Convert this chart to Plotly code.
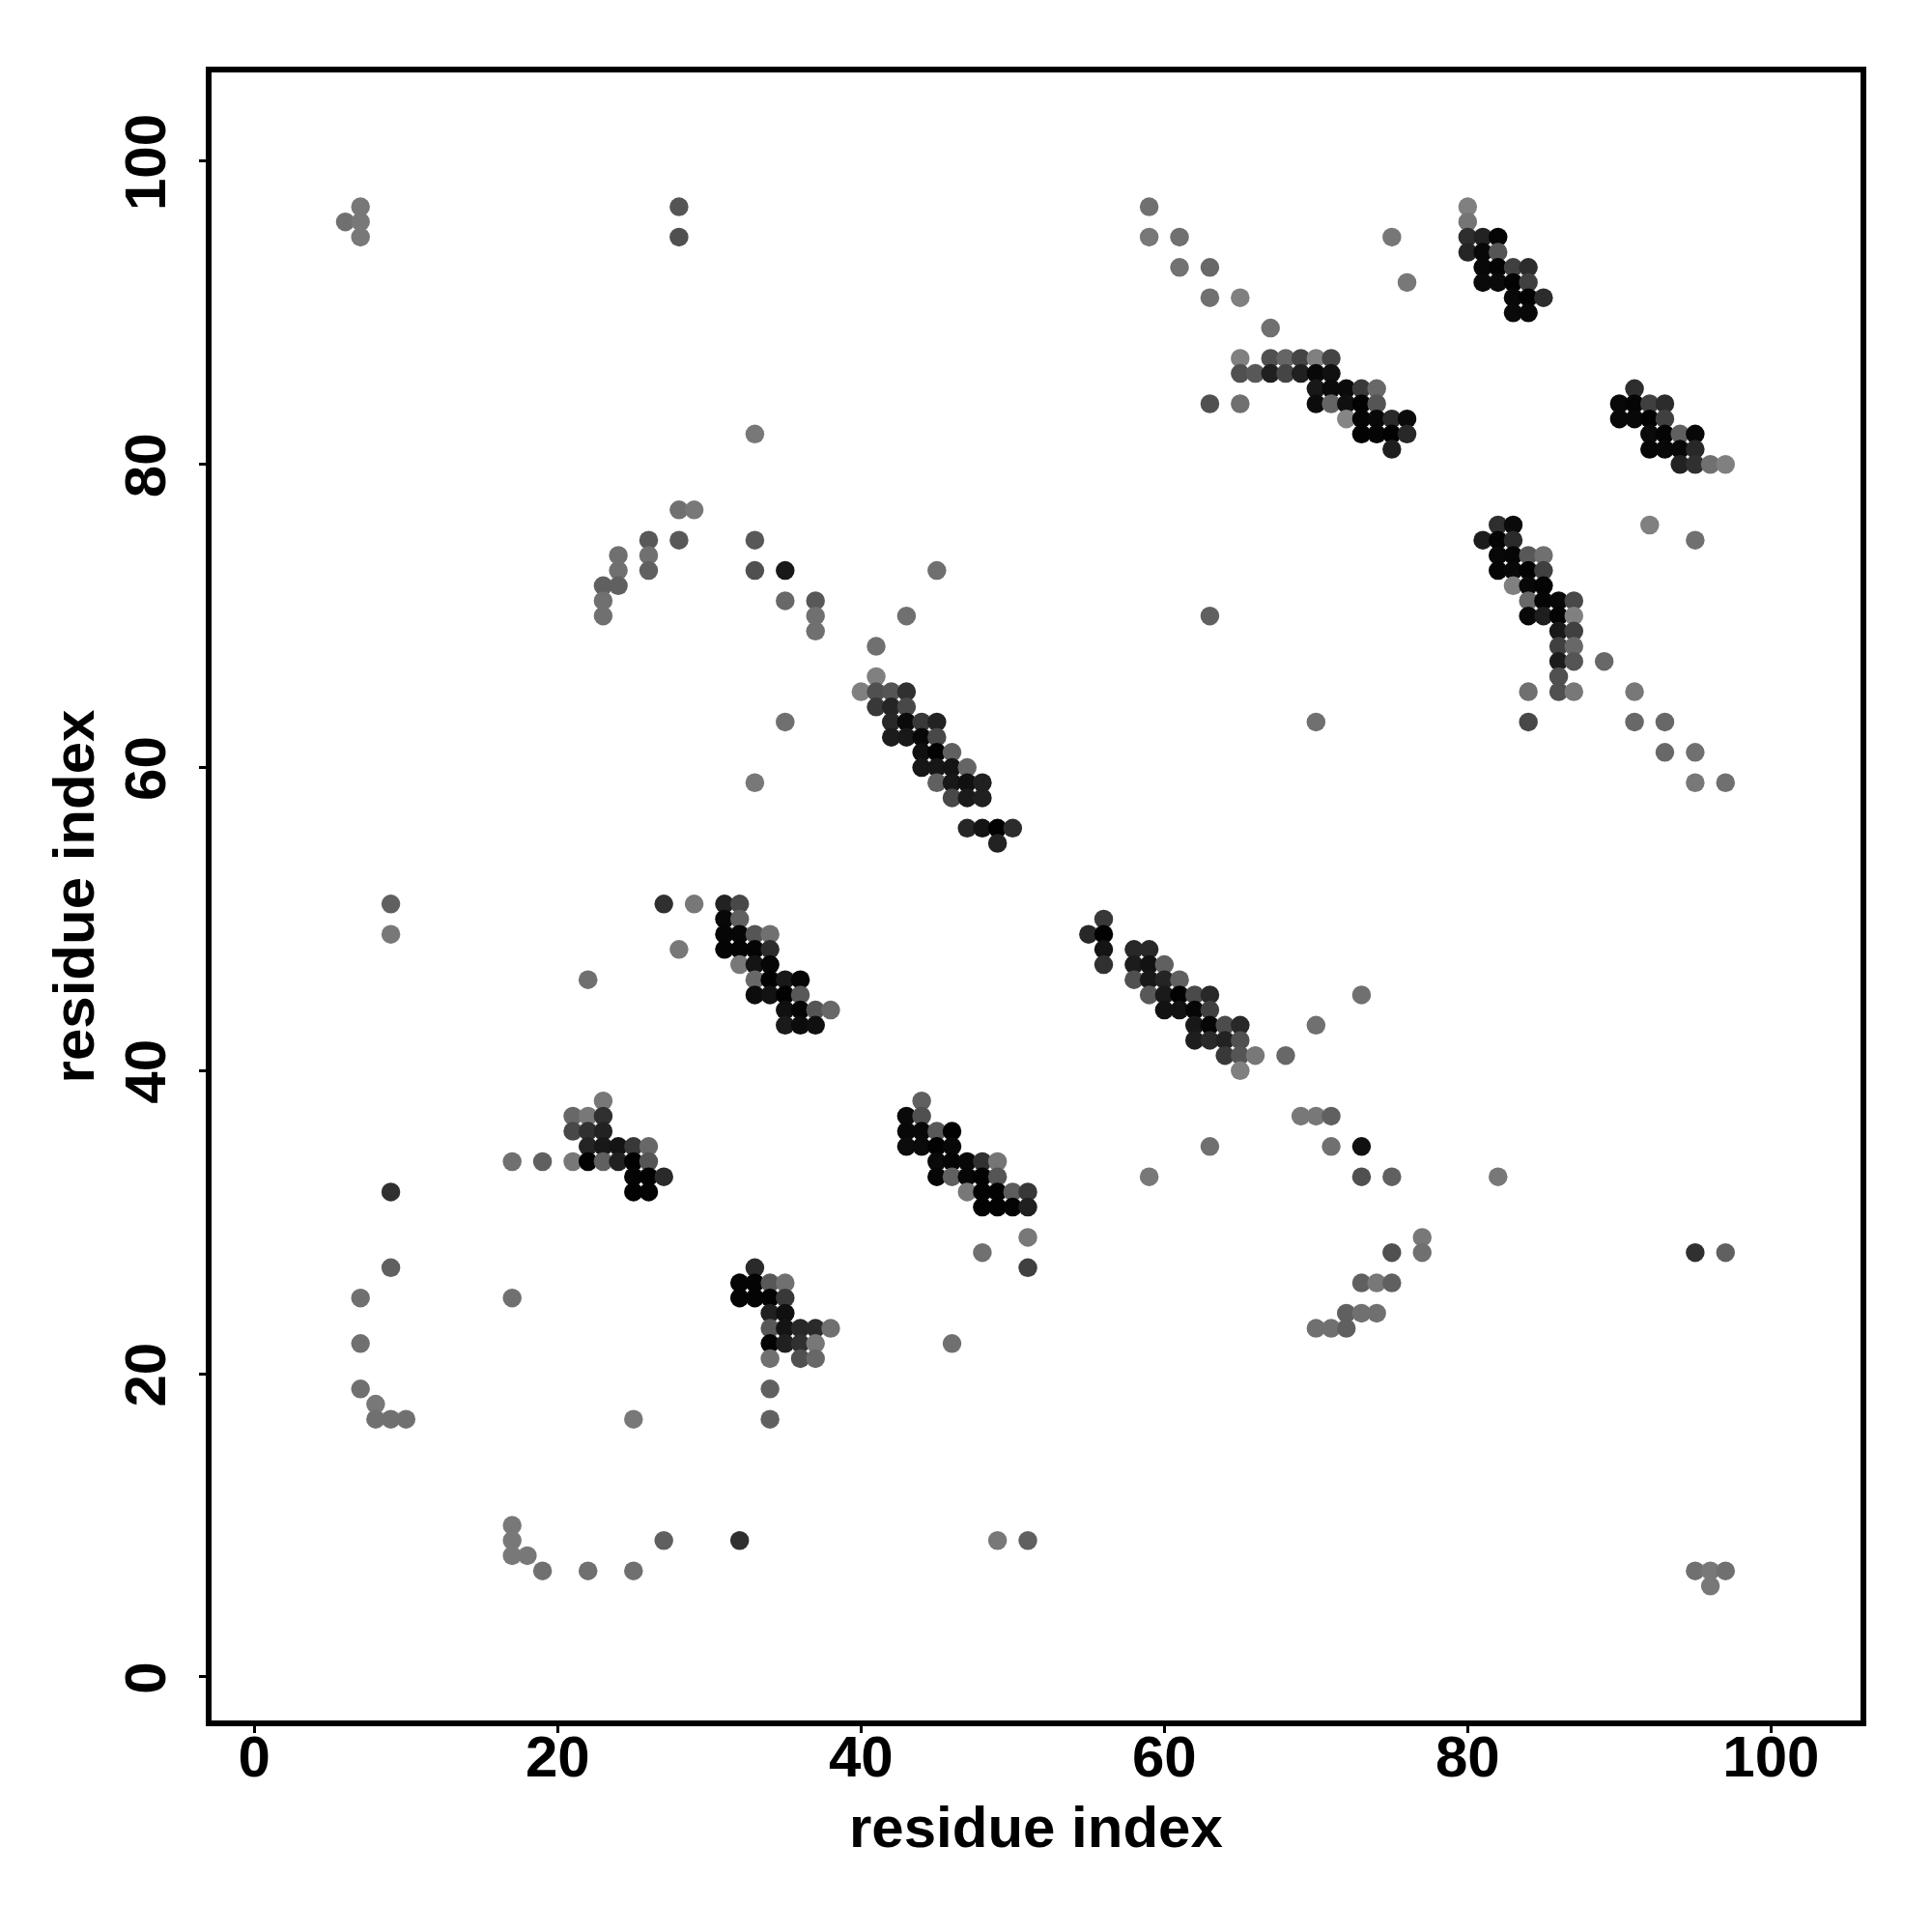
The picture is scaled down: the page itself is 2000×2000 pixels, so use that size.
import plotly.graph_objects as go

tick_values = [0, 20, 40, 60, 80, 100]
tick_labels = ["0", "20", "40", "60", "80", "100"]
x_title = "residue index"
y_title = "residue index"

row_y = [97, 96, 95, 94, 93, 92, 91, 90, 89, 87, 86, 85, 84, 83, 82, 81, 80, 77, 76, 75, 74, 73, 72, 71, 70,
         69, 68, 67, 66, 65, 64, 63, 62, 61, 60, 59, 58, 56, 55, 51, 50, 49, 48, 47, 46, 45, 44, 43, 42, 41, 40,
         38, 37, 36, 35, 34, 33, 32, 31, 29, 28, 27, 26, 25, 24, 23, 22, 21, 19, 18, 17, 10, 9, 8, 7, 6]

row_x = [
    [7, 28, 59, 80],
    [6, 7, 80],
    [7, 28, 59, 61, 75, 80, 81, 82],
    [80, 81, 82],
    [61, 63, 81, 82, 83, 84],
    [76, 81, 82, 83, 84],
    [63, 65, 83, 84, 85],
    [83, 84],
    [67],
    [65, 67, 68, 69, 70, 71],
    [65, 66, 67, 68, 69, 70, 71],
    [70, 71, 72, 73, 74, 91],
    [63, 65, 70, 71, 72, 73, 74, 90, 91, 92, 93],
    [72, 73, 74, 75, 76, 90, 91, 92, 93],
    [33, 73, 74, 75, 76, 92, 93, 94, 95],
    [75, 92, 93, 94, 95],
    [94, 95, 96, 97],
    [28, 29],
    [82, 83, 92],
    [26, 28, 33, 81, 82, 83, 95],
    [24, 26, 82, 83, 84, 85],
    [24, 26, 33, 35, 45, 82, 83, 84, 85],
    [23, 24, 83, 84, 85],
    [23, 35, 37, 84, 85, 86, 87],
    [23, 37, 43, 63, 84, 85, 86, 87],
    [37, 86, 87],
    [41, 86, 87],
    [86, 87, 89],
    [41, 86],
    [40, 41, 42, 43, 84, 86, 87, 91],
    [41, 42, 43],
    [35, 42, 43, 44, 45, 70, 84, 91, 93],
    [42, 43, 44, 45],
    [44, 45, 46, 93, 95],
    [44, 45, 46, 47],
    [33, 45, 46, 47, 48, 95, 97],
    [46, 47, 48],
    [47, 48, 49, 50],
    [49],
    [9, 27, 29, 31, 32],
    [31, 32, 56],
    [9, 31, 32, 33, 34, 55, 56],
    [28, 31, 32, 33, 34, 56, 58, 59],
    [32, 33, 34, 56, 58, 59, 60],
    [22, 33, 34, 35, 36, 58, 59, 60, 61],
    [33, 34, 35, 36, 59, 60, 61, 62, 63, 73],
    [35, 36, 37, 38, 60, 61, 62, 63],
    [35, 36, 37, 62, 63, 64, 65, 70],
    [62, 63, 64, 65],
    [64, 65, 66, 68],
    [65],
    [23, 44],
    [21, 22, 23, 43, 44, 69, 70, 71],
    [21, 22, 23, 43, 44, 45, 46],
    [22, 23, 24, 25, 26, 43, 44, 45, 46, 63, 71, 73],
    [17, 19, 21, 22, 23, 24, 25, 26, 45, 46, 47, 48, 49],
    [25, 26, 27, 45, 46, 47, 48, 49, 59, 73, 75, 82],
    [9, 25, 26, 47, 48, 49, 50, 51],
    [48, 49, 50, 51],
    [51, 77],
    [48, 75, 77, 95, 97],
    [9, 33, 51],
    [32, 33, 34, 35, 73, 74, 75],
    [7, 17, 32, 33, 34, 35],
    [34, 35, 72, 73, 74],
    [34, 35, 36, 37, 38, 70, 71, 72],
    [7, 34, 35, 36, 37, 46],
    [34, 36, 37],
    [7, 34],
    [8],
    [8, 9, 10, 25, 34],
    [17],
    [17, 27, 32, 49, 51],
    [17, 18],
    [19, 22, 25, 95, 96, 97],
    [96],
]

row_gray = [
    [0x78, 0x55, 0x70, 0x80],
    [0x70, 0x78, 0x75],
    [0x78, 0x50, 0x78, 0x70, 0x77, 0x2e, 0x22, 0x05],
    [0x25, 0x08, 0x55],
    [0x72, 0x68, 0x08, 0x04, 0x40, 0x2c],
    [0x78, 0x0a, 0x0a, 0x02, 0x40],
    [0x70, 0x80, 0x08, 0x02, 0x2c],
    [0x0a, 0x08],
    [0x70],
    [0x80, 0x50, 0x65, 0x45, 0x80, 0x45],
    [0x50, 0x58, 0x20, 0x45, 0x20, 0x08, 0x10],
    [0x18, 0x0a, 0x0a, 0x3a, 0x68, 0x2e],
    [0x50, 0x70, 0x0c, 0x65, 0x10, 0x02, 0x55, 0x08, 0x05, 0x40, 0x2c],
    [0x85, 0x05, 0x08, 0x2a, 0x0a, 0x08, 0x08, 0x02, 0x40],
    [0x78, 0x02, 0x05, 0x02, 0x28, 0x0a, 0x04, 0x60, 0x08],
    [0x1e, 0x06, 0x08, 0x08, 0x28],
    [0x22, 0x30, 0x70, 0x80],
    [0x70, 0x78],
    [0x2e, 0x0a, 0x80],
    [0x58, 0x58, 0x58, 0x1c, 0x04, 0x2a, 0x70],
    [0x70, 0x70, 0x08, 0x06, 0x58, 0x70],
    [0x70, 0x60, 0x50, 0x18, 0x70, 0x05, 0x08, 0x02, 0x40],
    [0x60, 0x60, 0x80, 0x08, 0x04],
    [0x70, 0x68, 0x58, 0x68, 0x06, 0x08, 0x48],
    [0x70, 0x70, 0x70, 0x60, 0x08, 0x1e, 0x04, 0x80],
    [0x70, 0x18, 0x40],
    [0x70, 0x40, 0x68],
    [0x1c, 0x55, 0x68],
    [0x80, 0x50],
    [0x80, 0x50, 0x55, 0x30, 0x70, 0x50, 0x78, 0x78],
    [0x38, 0x25, 0x48],
    [0x70, 0x28, 0x0a, 0x38, 0x22, 0x70, 0x48, 0x68, 0x68],
    [0x1c, 0x18, 0x08, 0x48],
    [0x10, 0x02, 0x60, 0x68, 0x70],
    [0x16, 0x16, 0x14, 0x65],
    [0x78, 0x60, 0x18, 0x10, 0x20, 0x78, 0x70],
    [0x48, 0x1a, 0x20],
    [0x26, 0x14, 0x02, 0x2c],
    [0x22],
    [0x60, 0x30, 0x78, 0x22, 0x48],
    [0x08, 0x60, 0x38],
    [0x78, 0x06, 0x06, 0x55, 0x70, 0x28, 0x02],
    [0x78, 0x04, 0x04, 0x04, 0x2c, 0x14, 0x28, 0x28],
    [0x78, 0x14, 0x06, 0x30, 0x1c, 0x12, 0x60],
    [0x70, 0x68, 0x02, 0x18, 0x06, 0x50, 0x18, 0x24, 0x60],
    [0x0c, 0x12, 0x02, 0x58, 0x58, 0x1a, 0x02, 0x4a, 0x28, 0x70],
    [0x10, 0x05, 0x55, 0x68, 0x12, 0x12, 0x06, 0x40],
    [0x1a, 0x0c, 0x10, 0x18, 0x06, 0x4c, 0x28, 0x70],
    [0x1e, 0x2a, 0x22, 0x50],
    [0x38, 0x55, 0x78, 0x68],
    [0x80],
    [0x78, 0x60],
    [0x68, 0x78, 0x30, 0x0a, 0x50, 0x78, 0x78, 0x60],
    [0x48, 0x30, 0x22, 0x08, 0x08, 0x58, 0x02],
    [0x24, 0x18, 0x14, 0x38, 0x68, 0x0c, 0x0a, 0x02, 0x08, 0x70, 0x70, 0x10],
    [0x70, 0x60, 0x78, 0x02, 0x60, 0x20, 0x02, 0x55, 0x0a, 0x04, 0x08, 0x30, 0x75],
    [0x04, 0x02, 0x2a, 0x06, 0x60, 0x06, 0x02, 0x55, 0x78, 0x50, 0x60, 0x78],
    [0x30, 0x02, 0x04, 0x78, 0x02, 0x02, 0x5c, 0x38],
    [0x02, 0x02, 0x04, 0x20],
    [0x78, 0x78],
    [0x70, 0x50, 0x70, 0x30, 0x60],
    [0x60, 0x2a, 0x40],
    [0x04, 0x04, 0x58, 0x70, 0x60, 0x78, 0x60],
    [0x70, 0x70, 0x04, 0x04, 0x02, 0x38],
    [0x20, 0x10, 0x60, 0x70, 0x70],
    [0x58, 0x14, 0x28, 0x2a, 0x70, 0x70, 0x70, 0x60],
    [0x70, 0x04, 0x20, 0x30, 0x78, 0x70],
    [0x70, 0x50, 0x68],
    [0x70, 0x60],
    [0x78],
    [0x70, 0x70, 0x70, 0x78, 0x60],
    [0x78],
    [0x78, 0x60, 0x30, 0x78, 0x60],
    [0x78, 0x78],
    [0x70, 0x70, 0x70, 0x70, 0x78, 0x70],
    [0x78],
]

xs, ys, colors = [], [], []
for y, rx, rg in zip(row_y, row_x, row_gray, strict=True):
    for x, g in zip(rx, rg, strict=True):
        xs.append(x)
        ys.append(y)
        colors.append(f"rgb({g},{g},{g})")

FONT = "Liberation Sans"
axis = dict(
    tickmode="array", tickvals=tick_values, ticktext=tick_labels,
    ticks="outside", ticklen=7, tickwidth=3, tickcolor="black",
    showgrid=False, zeroline=False, showline=True, linewidth=6, linecolor="black",
    mirror=True, automargin=False,
    tickfont=dict(family=FONT, size=60, color="black", weight=700),
)

fig = go.Figure(go.Scatter(
    x=xs, y=ys, mode="markers",
    marker=dict(color=colors, size=19.5, line=dict(width=0)),
    showlegend=False, hoverinfo="skip",
))
fig.update_layout(
    width=2000, height=2000, autosize=False,
    paper_bgcolor="white", plot_bgcolor="white",
    margin=dict(l=211, r=82.3, t=66.7, b=227, pad=0),
    xaxis=dict(axis, range=[-2.82, 105.9], tickangle=0, ticklabelstandoff=-27),
    yaxis=dict(axis, range=[-2.87, 105.86], tickangle=-90, ticklabelstandoff=11, ticklabelshift=10,
               title=dict(text=y_title, standoff=2,
                          font=dict(family=FONT, size=60, color="black", weight=700))),
    annotations=[dict(
        text=x_title, xref="paper", yref="paper", x=0.5, y=0,
        xanchor="center", yanchor="middle", yshift=-110, showarrow=False,
        font=dict(family=FONT, size=60, color="black", weight=700),
    )],
)
fig.write_html("out.html")
